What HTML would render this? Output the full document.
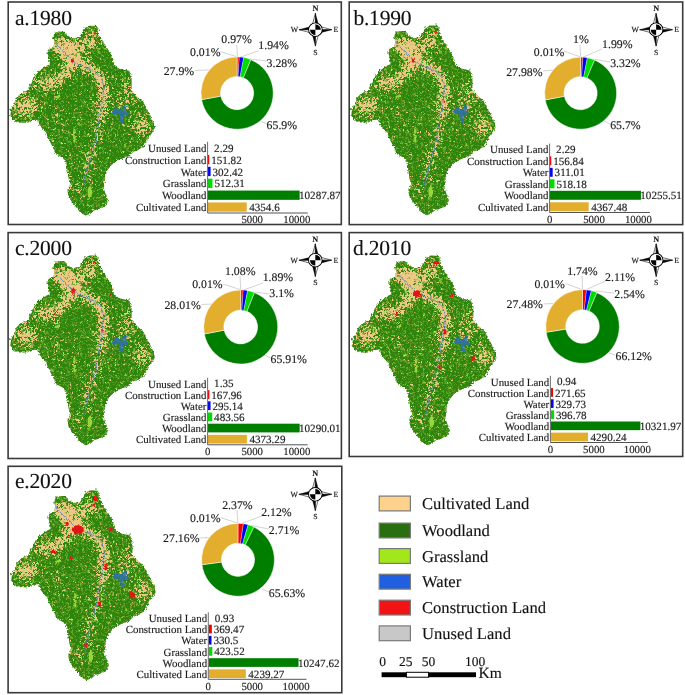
<!DOCTYPE html>
<html><head><meta charset="utf-8"><style>
html,body{margin:0;padding:0;background:#fff;}
svg{display:block;will-change:transform;}
text{font-family:"Liberation Serif",serif;text-rendering:geometricPrecision;stroke:#1c1c1c;stroke-width:0.15px;}
</style></head><body>
<svg width="685" height="695" viewBox="0 0 685 695">

<defs>
<clipPath id="mc"><path d="M52.4,36.4 L54.5,31.8 L58.0,30.4 L62.5,30.9 L67.6,35.2 L72.2,37.5 L78.1,36.4 L81.6,32.9 L83.9,27.0 L88.6,24.7 L95.6,25.1 L97.9,28.2 L97.9,32.9 L100.3,38.7 L103.8,43.4 L108.4,50.4 L112.0,57.4 L114.3,65.6 L119.0,67.9 L124.8,69.1 L129.5,70.2 L130.6,76.1 L130.6,87.8 L133.0,92.4 L136.5,95.9 L142.3,100.6 L145.8,108.8 L148.2,112.0 L151.7,119.3 L154.0,126.4 L151.7,131.0 L148.2,135.7 L145.8,140.4 L143.5,145.0 L138.8,148.5 L131.8,150.9 L127.1,155.6 L117.8,159.1 L110.8,163.7 L106.1,169.6 L103.8,176.6 L103.8,182.4 L102.6,187.1 L105.0,194.1 L107.3,200.0 L103.8,205.8 L97.9,208.1 L93.3,209.3 L89.8,212.8 L84.5,214.5 L79.2,211.6 L75.7,207.0 L72.2,202.3 L67.6,196.4 L66.4,189.4 L69.9,184.8 L67.6,177.8 L66.4,168.4 L65.2,161.4 L61.7,156.7 L54.7,153.2 L52.4,147.4 L47.7,138.0 L44.2,131.0 L38.4,124.0 L37.2,118.2 L31.4,120.5 L25.5,121.7 L17.3,121.7 L12.7,119.3 L9.2,114.7 L10.3,108.8 L12.7,103.0 L16.2,97.1 L20.8,92.4 L26.7,88.9 L30.2,83.1 L33.7,74.9 L39.5,69.1 L44.2,65.6 L48.9,63.2 L47.7,57.4 L46.5,51.5 L47.7,48.0 L52.4,46.9 L53.5,41.0 Z"/></clipPath>
<filter id="tanf" x="0" y="20" width="160" height="200" filterUnits="userSpaceOnUse" color-interpolation-filters="sRGB">
  <feTurbulence type="fractalNoise" baseFrequency="0.45" numOctaves="2" seed="4"/>
  <feColorMatrix type="matrix" values="1 0 0 0 0  1 0 0 0 0  1 0 0 0 0  0 0 0 0 1" result="n"/>
  <feGaussianBlur in="SourceGraphic" stdDeviation="4" result="d"/>
  <feComposite in="n" in2="d" operator="arithmetic" k1="0" k2="1" k3="0.58" k4="0" result="s"/>
  <feColorMatrix in="s" type="matrix" values="0 0 0 0 0.925  0 0 0 0 0.79  0 0 0 0 0.51  9 0 0 0 -6.0"/>
</filter>
<filter id="lgf" x="0" y="20" width="160" height="200" filterUnits="userSpaceOnUse" color-interpolation-filters="sRGB">
  <feTurbulence type="fractalNoise" baseFrequency="0.3" numOctaves="2" seed="11"/>
  <feColorMatrix type="matrix" values="1 0 0 0 0  1 0 0 0 0  1 0 0 0 0  0 0 0 0 1"/>
  <feColorMatrix type="matrix" values="0 0 0 0 0.50  0 0 0 0 0.80  0 0 0 0 0.18  10 0 0 0 -6.9"/>
</filter>
<filter id="olf" x="0" y="20" width="160" height="200" filterUnits="userSpaceOnUse" color-interpolation-filters="sRGB">
  <feTurbulence type="fractalNoise" baseFrequency="0.5" numOctaves="2" seed="23"/>
  <feColorMatrix type="matrix" values="1 0 0 0 0  1 0 0 0 0  1 0 0 0 0  0 0 0 0 1"/>
  <feColorMatrix type="matrix" values="0 0 0 0 0.50  0 0 0 0 0.66  0 0 0 0 0.20  9 0 0 0 -4.9"/>
</filter>
<filter id="rough" x="0" y="15" width="165" height="210" filterUnits="userSpaceOnUse">
  <feTurbulence type="turbulence" baseFrequency="0.35" numOctaves="2" seed="2" result="t"/>
  <feDisplacementMap in="SourceGraphic" in2="t" scale="3.5" xChannelSelector="R" yChannelSelector="G"/>
  <feGaussianBlur stdDeviation="0.3"/>
</filter>
<g id="mapbase">
  <g><g clip-path="url(#mc)">
    <rect x="0" y="20" width="160" height="200" fill="#2e850c"/>
    <g filter="url(#olf)" opacity="0.7"><rect x="0" y="20" width="160" height="200"/></g>
    <g filter="url(#lgf)"><rect x="0" y="20" width="160" height="200"/></g>
    <g filter="url(#tanf)">
<rect x="0" y="20" width="160" height="200" fill="#000"/>
<ellipse cx="70" cy="48" rx="16" ry="10" fill="#fff" opacity="0.55"/>
<ellipse cx="91" cy="38" rx="7" ry="11" fill="#fff" opacity="0.55"/>
<ellipse cx="25" cy="105" rx="13" ry="11" fill="#fff" opacity="0.5"/>
<ellipse cx="45" cy="82" rx="14" ry="9" fill="#fff" opacity="0.45"/>
<ellipse cx="125" cy="95" rx="12" ry="18" fill="#fff" opacity="0.28"/>
<ellipse cx="140" cy="126" rx="10" ry="12" fill="#fff" opacity="0.45"/>
<ellipse cx="75" cy="190" rx="6" ry="5" fill="#fff" opacity="0.5"/>
<ellipse cx="58" cy="120" rx="10" ry="18" fill="#fff" opacity="0.15"/>
<g fill="none" stroke="#fff" stroke-linecap="round" stroke-linejoin="round">
<path d="M53,42 L60,47 L66,54 L72,60 L80,64 L90,68 L98,74 L102,84 L102,100 L101,112" stroke-width="8" opacity="0.85"/>
<path d="M70,60 L63,70 L57,80 L52,86" stroke-width="6" opacity="0.7"/>
<path d="M70,60 L68,70 L67,79" stroke-width="5" opacity="0.6"/>
<path d="M101,112 L98,125 L95,138 L92,150 L88,165 L85,180" stroke-width="6" opacity="0.6"/>
</g>
</g>
    <g fill="#9ad63a"><ellipse cx="73.5" cy="134" rx="1.4" ry="9"/><ellipse cx="89" cy="191" rx="2.4" ry="6"/><ellipse cx="57" cy="96" rx="2.5" ry="1.8"/><ellipse cx="95" cy="34" rx="1.8" ry="1.5"/></g>
    <path d="M54,40 L55.2,42.1 L58,46 L61.1,49.5 L65,53 L70,58.3 L74,61.5 L78.8,64.2 L84,66.5 L90.7,68.7 L95,71.5 L99.5,76 L102.5,83.4 L102.3,90 L101.9,96.7 L100.8,104 L99.5,111.4 L98,119 L96.6,126.2 L95.1,138 L92.1,149.8 L89.8,157 L87.7,164.5 L85.8,172 L84.2,179.3 L83.3,188.1" fill="none" stroke="#5a80c4" stroke-width="0.95" opacity="0.85"/>
    <path d="M112,108 L116,107 L118,108.5 L121,109 L123,107 L125,104.5 L126.5,106 L124.5,110 L126,112 L128.5,113.5 L126,114.8 L122.5,113.5 L121.5,116 L122.5,120 L121,123 L119,121 L118.5,116 L116,113.5 L112,112.8 Z" fill="#2f6db5" opacity="0.85"/>
  </g></g>
</g>
</defs>
<rect x="8.2" y="2.0" width="333.1" height="222.5" fill="none" stroke="#3a3a3a" stroke-width="1.6"/>
<text x="15.0" y="24.8" font-size="21.5" letter-spacing="-0.2" font-family="Liberation Serif" fill="#111">a.1980</text>
<g transform="translate(0,0)" filter="url(#rough)">
<use href="#mapbase"/>
<ellipse cx="71.5" cy="59.8" rx="1.6" ry="2.0" fill="#e01818"/>
<ellipse cx="93.6" cy="32.4" rx="1.2" ry="1.0" fill="#e01818"/>
<ellipse cx="53.8" cy="83.4" rx="0.8" ry="0.8" fill="#e01818"/>
</g>
<g transform="translate(315.4,29.7) rotate(0)"><path d="M0,-16.4 L-2.7,-6.2 L0,0 Z" fill="#fff" stroke="#000" stroke-width="0.55" stroke-linejoin="miter"/><path d="M0,-16.4 L2.7,-6.2 L0,0 Z" fill="#000" stroke="#000" stroke-width="0.4"/></g>
<g transform="translate(315.4,29.7) rotate(90)"><path d="M0,-16.4 L-2.7,-6.2 L0,0 Z" fill="#fff" stroke="#000" stroke-width="0.55" stroke-linejoin="miter"/><path d="M0,-16.4 L2.7,-6.2 L0,0 Z" fill="#000" stroke="#000" stroke-width="0.4"/></g>
<g transform="translate(315.4,29.7) rotate(180)"><path d="M0,-16.4 L-2.7,-6.2 L0,0 Z" fill="#fff" stroke="#000" stroke-width="0.55" stroke-linejoin="miter"/><path d="M0,-16.4 L2.7,-6.2 L0,0 Z" fill="#000" stroke="#000" stroke-width="0.4"/></g>
<g transform="translate(315.4,29.7) rotate(270)"><path d="M0,-16.4 L-2.7,-6.2 L0,0 Z" fill="#fff" stroke="#000" stroke-width="0.55" stroke-linejoin="miter"/><path d="M0,-16.4 L2.7,-6.2 L0,0 Z" fill="#000" stroke="#000" stroke-width="0.4"/></g>
<circle cx="315.4" cy="29.7" r="6.7" fill="#fff" stroke="#000" stroke-width="1.1"/>
<path d="M315.4,29.7 L315.4,24.0 A5.7,5.7 0 0 1 321.09999999999997,29.7 Z" fill="#000"/>
<path d="M315.4,29.7 L315.4,35.4 A5.7,5.7 0 0 1 309.7,29.7 Z" fill="#000"/>
<circle cx="315.4" cy="29.7" r="5.8" fill="none" stroke="#fff" stroke-width="0.8"/>
<text x="315.4" y="11.099999999999998" font-size="8.2" font-weight="bold" text-anchor="middle" font-family="Liberation Serif" fill="#111">N</text>
<text x="315.4" y="54.5" font-size="7.8" text-anchor="middle" font-family="Liberation Serif" fill="#111">S</text>
<text x="294.4" y="32.4" font-size="7.8" text-anchor="middle" font-family="Liberation Serif" fill="#111">W</text>
<text x="335.9" y="32.4" font-size="7.8" text-anchor="middle" font-family="Liberation Serif" fill="#111">E</text>
<line x1="220.5" y1="51.7" x2="236.5" y2="56.7" stroke="#c8c8c8" stroke-width="0.8"/>
<line x1="236.8" y1="44.7" x2="237.4" y2="57.2" stroke="#c8c8c8" stroke-width="0.8"/>
<line x1="239.8" y1="57.4" x2="258.4" y2="50.8" stroke="#c8c8c8" stroke-width="0.8"/>
<line x1="249.6" y1="59" x2="267.1" y2="61.1" stroke="#c8c8c8" stroke-width="0.8"/>
<line x1="260.6" y1="121.3" x2="267.1" y2="124" stroke="#c8c8c8" stroke-width="0.8"/>
<line x1="194.9" y1="70.5" x2="209.1" y2="69.9" stroke="#c8c8c8" stroke-width="0.8"/>
<path d="M237.10,57.00 A36.1,36.1 0 0 1 237.13,57.00 L237.12,76.50 A16.6,16.6 0 0 0 237.10,76.50 Z" fill="#bfbfbf" stroke="#fff" stroke-width="0.0" stroke-linejoin="round"/>
<path d="M237.13,57.00 A36.1,36.1 0 0 1 239.34,57.07 L238.13,76.53 A16.6,16.6 0 0 0 237.12,76.50 Z" fill="#f80000" stroke="#fff" stroke-width="0.3" stroke-linejoin="round"/>
<path d="M239.34,57.07 A36.1,36.1 0 0 1 243.70,57.61 L240.13,76.78 A16.6,16.6 0 0 0 238.13,76.53 Z" fill="#0000f4" stroke="#fff" stroke-width="0.3" stroke-linejoin="round"/>
<path d="M243.70,57.61 A36.1,36.1 0 0 1 250.82,59.71 L243.41,77.75 A16.6,16.6 0 0 0 240.13,76.78 Z" fill="#00dc00" stroke="#fff" stroke-width="0.3" stroke-linejoin="round"/>
<path d="M250.82,59.71 A36.1,36.1 0 1 1 201.60,99.63 L220.77,96.10 A16.6,16.6 0 1 0 243.41,77.75 Z" fill="#007e00" stroke="#fff" stroke-width="0.5" stroke-linejoin="round"/>
<path d="M201.60,99.63 A36.1,36.1 0 0 1 237.10,57.00 L237.10,76.50 A16.6,16.6 0 0 0 220.77,96.10 Z" fill="#e3ae2e" stroke="#fff" stroke-width="0.5" stroke-linejoin="round"/>
<text x="190.0" y="56.2" font-size="11.8" font-family="Liberation Serif" fill="#1c1c1c">0.01%</text>
<text x="221.3" y="43.0" font-size="11.8" font-family="Liberation Serif" fill="#1c1c1c">0.97%</text>
<text x="258.3" y="49.2" font-size="11.8" font-family="Liberation Serif" fill="#1c1c1c">1.94%</text>
<text x="266.6" y="66.5" font-size="11.8" font-family="Liberation Serif" fill="#1c1c1c">3.28%</text>
<text x="266.6" y="129.1" font-size="11.8" font-family="Liberation Serif" fill="#1c1c1c">65.9%</text>
<text x="163.7" y="74.8" font-size="11.8" font-family="Liberation Serif" fill="#1c1c1c">27.9%</text>
<text x="206.4" y="151.8" font-size="10.9" text-anchor="end" font-family="Liberation Serif" fill="#1c1c1c">Unused Land</text>
<text x="214.1" y="151.7" font-size="11.1" font-family="Liberation Serif" fill="#1c1c1c">2.29</text>
<rect x="207.90" y="154.97" width="1.35" height="9.26" fill="#f80000"/>
<text x="206.4" y="163.7" font-size="10.9" text-anchor="end" font-family="Liberation Serif" fill="#1c1c1c">Construction Land</text>
<text x="211.2" y="163.6" font-size="11.1" font-family="Liberation Serif" fill="#1c1c1c">151.82</text>
<rect x="207.90" y="166.84" width="2.70" height="9.26" fill="#0000f4"/>
<text x="206.4" y="175.6" font-size="10.9" text-anchor="end" font-family="Liberation Serif" fill="#1c1c1c">Water</text>
<text x="212.5" y="175.5" font-size="11.1" font-family="Liberation Serif" fill="#1c1c1c">302.42</text>
<rect x="207.90" y="178.71" width="4.57" height="9.26" fill="#00dc00"/>
<text x="206.4" y="187.4" font-size="10.9" text-anchor="end" font-family="Liberation Serif" fill="#1c1c1c">Grassland</text>
<text x="214.4" y="187.3" font-size="11.1" font-family="Liberation Serif" fill="#1c1c1c">512.31</text>
<rect x="207.90" y="190.57" width="91.77" height="9.26" fill="#007e00"/>
<text x="206.4" y="199.3" font-size="10.9" text-anchor="end" font-family="Liberation Serif" fill="#1c1c1c">Woodland</text>
<text x="299.0" y="199.2" font-size="11.1" font-family="Liberation Serif" fill="#1c1c1c">10287.87</text>
<rect x="207.90" y="202.44" width="38.84" height="9.26" fill="#e3ae2e"/>
<text x="206.4" y="211.2" font-size="10.9" text-anchor="end" font-family="Liberation Serif" fill="#1c1c1c">Cultivated Land</text>
<text x="249.2" y="211.1" font-size="11.1" font-family="Liberation Serif" fill="#1c1c1c">4354.6</text>
<line x1="207.6" y1="141.8" x2="207.6" y2="213.0" stroke="#6e6e6e" stroke-width="1"/>
<line x1="207.6" y1="213.0" x2="307.8" y2="213.0" stroke="#555" stroke-width="1"/>
<text x="252.2" y="222.6" font-size="10.8" text-anchor="middle" font-family="Liberation Serif" fill="#1c1c1c">5000</text>
<text x="296.8" y="222.6" font-size="10.8" text-anchor="middle" font-family="Liberation Serif" fill="#1c1c1c">10000</text>
<rect x="349.2" y="2.0" width="333.5" height="222.6" fill="none" stroke="#3a3a3a" stroke-width="1.6"/>
<text x="353.4" y="24.8" font-size="21.5" letter-spacing="-0.2" font-family="Liberation Serif" fill="#111">b.1990</text>
<g transform="translate(340.8,-0.3)" filter="url(#rough)">
<use href="#mapbase"/>
<ellipse cx="71.5" cy="59.8" rx="1.8" ry="2.2" fill="#e01818"/>
<ellipse cx="93.6" cy="32.4" rx="1.4" ry="1.0" fill="#e01818"/>
<ellipse cx="53.8" cy="83.4" rx="0.9" ry="0.9" fill="#e01818"/>
<ellipse cx="102.5" cy="101" rx="0.7" ry="1.2" fill="#e01818"/>
</g>
<g transform="translate(656.1,29.7) rotate(0)"><path d="M0,-16.4 L-2.7,-6.2 L0,0 Z" fill="#fff" stroke="#000" stroke-width="0.55" stroke-linejoin="miter"/><path d="M0,-16.4 L2.7,-6.2 L0,0 Z" fill="#000" stroke="#000" stroke-width="0.4"/></g>
<g transform="translate(656.1,29.7) rotate(90)"><path d="M0,-16.4 L-2.7,-6.2 L0,0 Z" fill="#fff" stroke="#000" stroke-width="0.55" stroke-linejoin="miter"/><path d="M0,-16.4 L2.7,-6.2 L0,0 Z" fill="#000" stroke="#000" stroke-width="0.4"/></g>
<g transform="translate(656.1,29.7) rotate(180)"><path d="M0,-16.4 L-2.7,-6.2 L0,0 Z" fill="#fff" stroke="#000" stroke-width="0.55" stroke-linejoin="miter"/><path d="M0,-16.4 L2.7,-6.2 L0,0 Z" fill="#000" stroke="#000" stroke-width="0.4"/></g>
<g transform="translate(656.1,29.7) rotate(270)"><path d="M0,-16.4 L-2.7,-6.2 L0,0 Z" fill="#fff" stroke="#000" stroke-width="0.55" stroke-linejoin="miter"/><path d="M0,-16.4 L2.7,-6.2 L0,0 Z" fill="#000" stroke="#000" stroke-width="0.4"/></g>
<circle cx="656.1" cy="29.7" r="6.7" fill="#fff" stroke="#000" stroke-width="1.1"/>
<path d="M656.1,29.7 L656.1,24.0 A5.7,5.7 0 0 1 661.8000000000001,29.7 Z" fill="#000"/>
<path d="M656.1,29.7 L656.1,35.4 A5.7,5.7 0 0 1 650.4,29.7 Z" fill="#000"/>
<circle cx="656.1" cy="29.7" r="5.8" fill="none" stroke="#fff" stroke-width="0.8"/>
<text x="656.1" y="11.099999999999998" font-size="8.2" font-weight="bold" text-anchor="middle" font-family="Liberation Serif" fill="#111">N</text>
<text x="656.1" y="54.5" font-size="7.8" text-anchor="middle" font-family="Liberation Serif" fill="#111">S</text>
<text x="635.1" y="32.4" font-size="7.8" text-anchor="middle" font-family="Liberation Serif" fill="#111">W</text>
<text x="676.6" y="32.4" font-size="7.8" text-anchor="middle" font-family="Liberation Serif" fill="#111">E</text>
<line x1="564" y1="51" x2="580" y2="56.8" stroke="#c8c8c8" stroke-width="0.8"/>
<line x1="580" y1="45" x2="580.6" y2="57" stroke="#c8c8c8" stroke-width="0.8"/>
<line x1="583" y1="57.2" x2="602" y2="49" stroke="#c8c8c8" stroke-width="0.8"/>
<line x1="593" y1="59" x2="610" y2="62" stroke="#c8c8c8" stroke-width="0.8"/>
<line x1="604" y1="121" x2="610" y2="124" stroke="#c8c8c8" stroke-width="0.8"/>
<line x1="543" y1="71" x2="553" y2="70" stroke="#c8c8c8" stroke-width="0.8"/>
<path d="M580.60,57.20 A36.0,36.0 0 0 1 580.63,57.20 L580.62,76.60 A16.6,16.6 0 0 0 580.60,76.60 Z" fill="#bfbfbf" stroke="#fff" stroke-width="0.0" stroke-linejoin="round"/>
<path d="M580.63,57.20 A36.0,36.0 0 0 1 582.90,57.27 L581.66,76.63 A16.6,16.6 0 0 0 580.62,76.60 Z" fill="#f80000" stroke="#fff" stroke-width="0.3" stroke-linejoin="round"/>
<path d="M582.90,57.27 A36.0,36.0 0 0 1 587.37,57.84 L583.72,76.90 A16.6,16.6 0 0 0 581.66,76.63 Z" fill="#0000f4" stroke="#fff" stroke-width="0.3" stroke-linejoin="round"/>
<path d="M587.37,57.84 A36.0,36.0 0 0 1 594.55,60.01 L587.03,77.90 A16.6,16.6 0 0 0 583.72,76.90 Z" fill="#00dc00" stroke="#fff" stroke-width="0.3" stroke-linejoin="round"/>
<path d="M594.55,60.01 A36.0,36.0 0 1 1 545.23,99.89 L564.29,96.29 A16.6,16.6 0 1 0 587.03,77.90 Z" fill="#007e00" stroke="#fff" stroke-width="0.5" stroke-linejoin="round"/>
<path d="M545.23,99.89 A36.0,36.0 0 0 1 580.60,57.20 L580.60,76.60 A16.6,16.6 0 0 0 564.29,96.29 Z" fill="#e3ae2e" stroke="#fff" stroke-width="0.5" stroke-linejoin="round"/>
<text x="533.8" y="55.7" font-size="11.8" font-family="Liberation Serif" fill="#1c1c1c">0.01%</text>
<text x="573.0" y="43.0" font-size="11.8" font-family="Liberation Serif" fill="#1c1c1c">1%</text>
<text x="602.1" y="48.4" font-size="11.8" font-family="Liberation Serif" fill="#1c1c1c">1.99%</text>
<text x="610.2" y="66.8" font-size="11.8" font-family="Liberation Serif" fill="#1c1c1c">3.32%</text>
<text x="610.2" y="129.4" font-size="11.8" font-family="Liberation Serif" fill="#1c1c1c">65.7%</text>
<text x="506.2" y="75.6" font-size="11.8" font-family="Liberation Serif" fill="#1c1c1c">27.98%</text>
<text x="548.4" y="153.4" font-size="10.9" text-anchor="end" font-family="Liberation Serif" fill="#1c1c1c">Unused Land</text>
<text x="556.1" y="153.3" font-size="11.1" font-family="Liberation Serif" fill="#1c1c1c">2.29</text>
<rect x="549.90" y="156.35" width="1.39" height="8.96" fill="#f80000"/>
<text x="548.4" y="164.9" font-size="10.9" text-anchor="end" font-family="Liberation Serif" fill="#1c1c1c">Construction Land</text>
<text x="553.2" y="164.8" font-size="11.1" font-family="Liberation Serif" fill="#1c1c1c">156.84</text>
<rect x="549.90" y="167.83" width="2.76" height="8.96" fill="#0000f4"/>
<text x="548.4" y="176.4" font-size="10.9" text-anchor="end" font-family="Liberation Serif" fill="#1c1c1c">Water</text>
<text x="554.6" y="176.3" font-size="11.1" font-family="Liberation Serif" fill="#1c1c1c">311.01</text>
<rect x="549.90" y="179.31" width="4.60" height="8.96" fill="#00dc00"/>
<text x="548.4" y="187.9" font-size="10.9" text-anchor="end" font-family="Liberation Serif" fill="#1c1c1c">Grassland</text>
<text x="556.4" y="187.8" font-size="11.1" font-family="Liberation Serif" fill="#1c1c1c">518.18</text>
<rect x="549.90" y="190.80" width="91.07" height="8.96" fill="#007e00"/>
<text x="548.4" y="199.4" font-size="10.9" text-anchor="end" font-family="Liberation Serif" fill="#1c1c1c">Woodland</text>
<text x="640.3" y="199.3" font-size="11.1" font-family="Liberation Serif" fill="#1c1c1c">10255.51</text>
<rect x="549.90" y="202.28" width="38.78" height="8.96" fill="#e3ae2e"/>
<text x="548.4" y="210.9" font-size="10.9" text-anchor="end" font-family="Liberation Serif" fill="#1c1c1c">Cultivated Land</text>
<text x="591.2" y="210.8" font-size="11.1" font-family="Liberation Serif" fill="#1c1c1c">4367.48</text>
<line x1="549.6" y1="143.6" x2="549.6" y2="212.5" stroke="#6e6e6e" stroke-width="1"/>
<line x1="549.6" y1="212.5" x2="649.9" y2="212.5" stroke="#555" stroke-width="1"/>
<text x="549.6" y="223.0" font-size="10.8" text-anchor="middle" font-family="Liberation Serif" fill="#1c1c1c">0</text>
<text x="594.0" y="223.0" font-size="10.8" text-anchor="middle" font-family="Liberation Serif" fill="#1c1c1c">5000</text>
<text x="638.4" y="223.0" font-size="10.8" text-anchor="middle" font-family="Liberation Serif" fill="#1c1c1c">10000</text>
<rect x="8.1" y="232.6" width="333.3" height="225.9" fill="none" stroke="#3a3a3a" stroke-width="1.6"/>
<text x="15.0" y="254.5" font-size="21.5" letter-spacing="-0.2" font-family="Liberation Serif" fill="#111">c.2000</text>
<g transform="translate(0,229.7)" filter="url(#rough)">
<use href="#mapbase"/>
<ellipse cx="72.5" cy="60.5" rx="2.4" ry="2.6" fill="#e01818"/>
<ellipse cx="93.6" cy="32.4" rx="1.8" ry="1.2" fill="#e01818"/>
<ellipse cx="53.8" cy="83.4" rx="1.0" ry="1.0" fill="#e01818"/>
<ellipse cx="102.5" cy="101" rx="0.8" ry="1.6" fill="#e01818"/>
<ellipse cx="130.5" cy="127.7" rx="0.8" ry="1.2" fill="#e01818"/>
<ellipse cx="109.8" cy="64.2" rx="1.0" ry="0.8" fill="#e01818"/>
</g>
<g transform="translate(315.3,260.2) rotate(0)"><path d="M0,-16.4 L-2.7,-6.2 L0,0 Z" fill="#fff" stroke="#000" stroke-width="0.55" stroke-linejoin="miter"/><path d="M0,-16.4 L2.7,-6.2 L0,0 Z" fill="#000" stroke="#000" stroke-width="0.4"/></g>
<g transform="translate(315.3,260.2) rotate(90)"><path d="M0,-16.4 L-2.7,-6.2 L0,0 Z" fill="#fff" stroke="#000" stroke-width="0.55" stroke-linejoin="miter"/><path d="M0,-16.4 L2.7,-6.2 L0,0 Z" fill="#000" stroke="#000" stroke-width="0.4"/></g>
<g transform="translate(315.3,260.2) rotate(180)"><path d="M0,-16.4 L-2.7,-6.2 L0,0 Z" fill="#fff" stroke="#000" stroke-width="0.55" stroke-linejoin="miter"/><path d="M0,-16.4 L2.7,-6.2 L0,0 Z" fill="#000" stroke="#000" stroke-width="0.4"/></g>
<g transform="translate(315.3,260.2) rotate(270)"><path d="M0,-16.4 L-2.7,-6.2 L0,0 Z" fill="#fff" stroke="#000" stroke-width="0.55" stroke-linejoin="miter"/><path d="M0,-16.4 L2.7,-6.2 L0,0 Z" fill="#000" stroke="#000" stroke-width="0.4"/></g>
<circle cx="315.3" cy="260.2" r="6.7" fill="#fff" stroke="#000" stroke-width="1.1"/>
<path d="M315.3,260.2 L315.3,254.5 A5.7,5.7 0 0 1 321.0,260.2 Z" fill="#000"/>
<path d="M315.3,260.2 L315.3,265.9 A5.7,5.7 0 0 1 309.6,260.2 Z" fill="#000"/>
<circle cx="315.3" cy="260.2" r="5.8" fill="none" stroke="#fff" stroke-width="0.8"/>
<text x="315.3" y="241.6" font-size="8.2" font-weight="bold" text-anchor="middle" font-family="Liberation Serif" fill="#111">N</text>
<text x="315.3" y="285.0" font-size="7.8" text-anchor="middle" font-family="Liberation Serif" fill="#111">S</text>
<text x="294.3" y="262.9" font-size="7.8" text-anchor="middle" font-family="Liberation Serif" fill="#111">W</text>
<text x="335.8" y="262.9" font-size="7.8" text-anchor="middle" font-family="Liberation Serif" fill="#111">E</text>
<line x1="223" y1="284" x2="240" y2="289.5" stroke="#c8c8c8" stroke-width="0.8"/>
<line x1="240" y1="276" x2="240.7" y2="290" stroke="#c8c8c8" stroke-width="0.8"/>
<line x1="243.5" y1="290" x2="263" y2="283" stroke="#c8c8c8" stroke-width="0.8"/>
<line x1="253" y1="292" x2="270" y2="294" stroke="#c8c8c8" stroke-width="0.8"/>
<line x1="264" y1="355" x2="271" y2="358" stroke="#c8c8c8" stroke-width="0.8"/>
<line x1="201.5" y1="304.5" x2="212" y2="304" stroke="#c8c8c8" stroke-width="0.8"/>
<path d="M240.70,290.00 A37.0,37.0 0 0 1 240.72,290.00 L240.71,310.10 A16.9,16.9 0 0 0 240.70,310.10 Z" fill="#bfbfbf" stroke="#fff" stroke-width="0.0" stroke-linejoin="round"/>
<path d="M240.72,290.00 A37.0,37.0 0 0 1 243.22,290.09 L241.85,310.14 A16.9,16.9 0 0 0 240.71,310.10 Z" fill="#f80000" stroke="#fff" stroke-width="0.3" stroke-linejoin="round"/>
<path d="M243.22,290.09 A37.0,37.0 0 0 1 247.58,290.64 L243.84,310.39 A16.9,16.9 0 0 0 241.85,310.14 Z" fill="#0000f4" stroke="#fff" stroke-width="0.3" stroke-linejoin="round"/>
<path d="M247.58,290.64 A37.0,37.0 0 0 1 254.48,292.66 L246.99,311.32 A16.9,16.9 0 0 0 243.84,310.39 Z" fill="#00dc00" stroke="#fff" stroke-width="0.3" stroke-linejoin="round"/>
<path d="M254.48,292.66 A37.0,37.0 0 1 1 204.36,333.96 L224.10,330.18 A16.9,16.9 0 1 0 246.99,311.32 Z" fill="#007e00" stroke="#fff" stroke-width="0.5" stroke-linejoin="round"/>
<path d="M204.36,333.96 A37.0,37.0 0 0 1 240.70,290.00 L240.70,310.10 A16.9,16.9 0 0 0 224.10,330.18 Z" fill="#e3ae2e" stroke="#fff" stroke-width="0.5" stroke-linejoin="round"/>
<text x="192.2" y="288.3" font-size="11.8" font-family="Liberation Serif" fill="#1c1c1c">0.01%</text>
<text x="225.0" y="274.8" font-size="11.8" font-family="Liberation Serif" fill="#1c1c1c">1.08%</text>
<text x="262.7" y="281.3" font-size="11.8" font-family="Liberation Serif" fill="#1c1c1c">1.89%</text>
<text x="269.3" y="297.1" font-size="11.8" font-family="Liberation Serif" fill="#1c1c1c">3.1%</text>
<text x="270.5" y="362.8" font-size="11.8" font-family="Liberation Serif" fill="#1c1c1c">65.91%</text>
<text x="164.4" y="308.7" font-size="11.8" font-family="Liberation Serif" fill="#1c1c1c">28.01%</text>
<text x="206.4" y="387.5" font-size="10.9" text-anchor="end" font-family="Liberation Serif" fill="#1c1c1c">Unused Land</text>
<text x="214.1" y="387.4" font-size="11.1" font-family="Liberation Serif" fill="#1c1c1c">1.35</text>
<rect x="207.90" y="390.19" width="1.50" height="8.71" fill="#f80000"/>
<text x="206.4" y="398.7" font-size="10.9" text-anchor="end" font-family="Liberation Serif" fill="#1c1c1c">Construction Land</text>
<text x="211.3" y="398.6" font-size="11.1" font-family="Liberation Serif" fill="#1c1c1c">167.96</text>
<rect x="207.90" y="401.36" width="2.63" height="8.71" fill="#0000f4"/>
<text x="206.4" y="409.8" font-size="10.9" text-anchor="end" font-family="Liberation Serif" fill="#1c1c1c">Water</text>
<text x="212.4" y="409.7" font-size="11.1" font-family="Liberation Serif" fill="#1c1c1c">295.14</text>
<rect x="207.90" y="412.53" width="4.31" height="8.71" fill="#00dc00"/>
<text x="206.4" y="421.0" font-size="10.9" text-anchor="end" font-family="Liberation Serif" fill="#1c1c1c">Grassland</text>
<text x="214.1" y="420.9" font-size="11.1" font-family="Liberation Serif" fill="#1c1c1c">483.56</text>
<rect x="207.90" y="423.69" width="91.79" height="8.71" fill="#007e00"/>
<text x="206.4" y="432.2" font-size="10.9" text-anchor="end" font-family="Liberation Serif" fill="#1c1c1c">Woodland</text>
<text x="299.0" y="432.1" font-size="11.1" font-family="Liberation Serif" fill="#1c1c1c">10290.01</text>
<rect x="207.90" y="434.86" width="39.01" height="8.71" fill="#e3ae2e"/>
<text x="206.4" y="443.3" font-size="10.9" text-anchor="end" font-family="Liberation Serif" fill="#1c1c1c">Cultivated Land</text>
<text x="249.4" y="443.2" font-size="11.1" font-family="Liberation Serif" fill="#1c1c1c">4373.29</text>
<line x1="207.6" y1="377.8" x2="207.6" y2="444.8" stroke="#6e6e6e" stroke-width="1"/>
<line x1="207.6" y1="444.8" x2="307.6" y2="444.8" stroke="#555" stroke-width="1"/>
<text x="207.6" y="454.9" font-size="10.8" text-anchor="middle" font-family="Liberation Serif" fill="#1c1c1c">0</text>
<text x="252.2" y="454.9" font-size="10.8" text-anchor="middle" font-family="Liberation Serif" fill="#1c1c1c">5000</text>
<text x="296.8" y="454.9" font-size="10.8" text-anchor="middle" font-family="Liberation Serif" fill="#1c1c1c">10000</text>
<rect x="349.2" y="232.6" width="333.5" height="223.9" fill="none" stroke="#3a3a3a" stroke-width="1.6"/>
<text x="353.0" y="254.6" font-size="21.5" letter-spacing="-0.2" font-family="Liberation Serif" fill="#111">d.2010</text>
<g transform="translate(341.7,229.8)" filter="url(#rough)">
<use href="#mapbase"/>
<ellipse cx="74.4" cy="62.8" rx="4.2" ry="3.4" fill="#e01818"/>
<ellipse cx="93.6" cy="32.4" rx="2.8" ry="1.8" fill="#e01818"/>
<ellipse cx="109.8" cy="64.2" rx="1.8" ry="1.4" fill="#e01818"/>
<ellipse cx="102.5" cy="101.1" rx="1.4" ry="2.8" fill="#e01818"/>
<ellipse cx="130.5" cy="127.7" rx="1.8" ry="2.8" fill="#e01818"/>
<ellipse cx="96.6" cy="136.5" rx="1.3" ry="2.4" fill="#e01818"/>
<ellipse cx="53.8" cy="83.4" rx="1.4" ry="1.4" fill="#e01818"/>
<ellipse cx="68.5" cy="90.8" rx="1.0" ry="1.0" fill="#e01818"/>
<ellipse cx="84.8" cy="177.8" rx="0.9" ry="1.8" fill="#e01818"/>
<ellipse cx="56.7" cy="42.1" rx="0.9" ry="0.9" fill="#e01818"/>
</g>
<g transform="translate(656.2,260.2) rotate(0)"><path d="M0,-16.4 L-2.7,-6.2 L0,0 Z" fill="#fff" stroke="#000" stroke-width="0.55" stroke-linejoin="miter"/><path d="M0,-16.4 L2.7,-6.2 L0,0 Z" fill="#000" stroke="#000" stroke-width="0.4"/></g>
<g transform="translate(656.2,260.2) rotate(90)"><path d="M0,-16.4 L-2.7,-6.2 L0,0 Z" fill="#fff" stroke="#000" stroke-width="0.55" stroke-linejoin="miter"/><path d="M0,-16.4 L2.7,-6.2 L0,0 Z" fill="#000" stroke="#000" stroke-width="0.4"/></g>
<g transform="translate(656.2,260.2) rotate(180)"><path d="M0,-16.4 L-2.7,-6.2 L0,0 Z" fill="#fff" stroke="#000" stroke-width="0.55" stroke-linejoin="miter"/><path d="M0,-16.4 L2.7,-6.2 L0,0 Z" fill="#000" stroke="#000" stroke-width="0.4"/></g>
<g transform="translate(656.2,260.2) rotate(270)"><path d="M0,-16.4 L-2.7,-6.2 L0,0 Z" fill="#fff" stroke="#000" stroke-width="0.55" stroke-linejoin="miter"/><path d="M0,-16.4 L2.7,-6.2 L0,0 Z" fill="#000" stroke="#000" stroke-width="0.4"/></g>
<circle cx="656.2" cy="260.2" r="6.7" fill="#fff" stroke="#000" stroke-width="1.1"/>
<path d="M656.2,260.2 L656.2,254.5 A5.7,5.7 0 0 1 661.9000000000001,260.2 Z" fill="#000"/>
<path d="M656.2,260.2 L656.2,265.9 A5.7,5.7 0 0 1 650.5,260.2 Z" fill="#000"/>
<circle cx="656.2" cy="260.2" r="5.8" fill="none" stroke="#fff" stroke-width="0.8"/>
<text x="656.2" y="241.6" font-size="8.2" font-weight="bold" text-anchor="middle" font-family="Liberation Serif" fill="#111">N</text>
<text x="656.2" y="285.0" font-size="7.8" text-anchor="middle" font-family="Liberation Serif" fill="#111">S</text>
<text x="635.2" y="262.9" font-size="7.8" text-anchor="middle" font-family="Liberation Serif" fill="#111">W</text>
<text x="676.7" y="262.9" font-size="7.8" text-anchor="middle" font-family="Liberation Serif" fill="#111">E</text>
<line x1="565.5" y1="283.5" x2="582" y2="289.5" stroke="#c8c8c8" stroke-width="0.8"/>
<line x1="582" y1="276" x2="582.5" y2="289.5" stroke="#c8c8c8" stroke-width="0.8"/>
<line x1="586" y1="289.7" x2="605.6" y2="281" stroke="#c8c8c8" stroke-width="0.8"/>
<line x1="595" y1="291" x2="614" y2="293" stroke="#c8c8c8" stroke-width="0.8"/>
<line x1="606" y1="352" x2="615" y2="355" stroke="#c8c8c8" stroke-width="0.8"/>
<line x1="543.5" y1="304" x2="553" y2="303.5" stroke="#c8c8c8" stroke-width="0.8"/>
<path d="M582.50,289.70 A36.8,36.8 0 0 1 582.51,289.70 L582.51,309.70 A16.8,16.8 0 0 0 582.50,309.70 Z" fill="#bfbfbf" stroke="#fff" stroke-width="0.0" stroke-linejoin="round"/>
<path d="M582.51,289.70 A36.8,36.8 0 0 1 586.53,289.92 L584.34,309.80 A16.8,16.8 0 0 0 582.51,309.70 Z" fill="#f80000" stroke="#fff" stroke-width="0.3" stroke-linejoin="round"/>
<path d="M586.53,289.92 A36.8,36.8 0 0 1 591.33,290.78 L586.53,310.19 A16.8,16.8 0 0 0 584.34,309.80 Z" fill="#0000f4" stroke="#fff" stroke-width="0.3" stroke-linejoin="round"/>
<path d="M591.33,290.78 A36.8,36.8 0 0 1 596.90,292.64 L589.07,311.04 A16.8,16.8 0 0 0 586.53,310.19 Z" fill="#00dc00" stroke="#fff" stroke-width="0.3" stroke-linejoin="round"/>
<path d="M596.90,292.64 A36.8,36.8 0 1 1 546.15,332.21 L565.90,329.11 A16.8,16.8 0 1 0 589.07,311.04 Z" fill="#007e00" stroke="#fff" stroke-width="0.5" stroke-linejoin="round"/>
<path d="M546.15,332.21 A36.8,36.8 0 0 1 582.50,289.70 L582.50,309.70 A16.8,16.8 0 0 0 565.90,329.11 Z" fill="#e3ae2e" stroke="#fff" stroke-width="0.5" stroke-linejoin="round"/>
<text x="534.4" y="287.9" font-size="11.8" font-family="Liberation Serif" fill="#1c1c1c">0.01%</text>
<text x="567.2" y="275.2" font-size="11.8" font-family="Liberation Serif" fill="#1c1c1c">1.74%</text>
<text x="605.1" y="281.3" font-size="11.8" font-family="Liberation Serif" fill="#1c1c1c">2.11%</text>
<text x="614.3" y="297.8" font-size="11.8" font-family="Liberation Serif" fill="#1c1c1c">2.54%</text>
<text x="615.5" y="359.5" font-size="11.8" font-family="Liberation Serif" fill="#1c1c1c">66.12%</text>
<text x="506.5" y="308.3" font-size="11.8" font-family="Liberation Serif" fill="#1c1c1c">27.48%</text>
<text x="549.2" y="385.5" font-size="10.9" text-anchor="end" font-family="Liberation Serif" fill="#1c1c1c">Unused Land</text>
<text x="556.9" y="385.4" font-size="11.1" font-family="Liberation Serif" fill="#1c1c1c">0.94</text>
<rect x="550.70" y="388.14" width="2.36" height="8.67" fill="#f80000"/>
<text x="549.2" y="396.6" font-size="10.9" text-anchor="end" font-family="Liberation Serif" fill="#1c1c1c">Construction Land</text>
<text x="555.0" y="396.5" font-size="11.1" font-family="Liberation Serif" fill="#1c1c1c">271.65</text>
<rect x="550.70" y="399.26" width="2.87" height="8.67" fill="#0000f4"/>
<text x="549.2" y="407.7" font-size="10.9" text-anchor="end" font-family="Liberation Serif" fill="#1c1c1c">Water</text>
<text x="555.5" y="407.6" font-size="11.1" font-family="Liberation Serif" fill="#1c1c1c">329.73</text>
<rect x="550.70" y="410.37" width="3.45" height="8.67" fill="#00dc00"/>
<text x="549.2" y="418.8" font-size="10.9" text-anchor="end" font-family="Liberation Serif" fill="#1c1c1c">Grassland</text>
<text x="556.0" y="418.7" font-size="11.1" font-family="Liberation Serif" fill="#1c1c1c">396.78</text>
<rect x="550.70" y="421.49" width="89.70" height="8.67" fill="#007e00"/>
<text x="549.2" y="429.9" font-size="10.9" text-anchor="end" font-family="Liberation Serif" fill="#1c1c1c">Woodland</text>
<text x="639.7" y="429.8" font-size="11.1" font-family="Liberation Serif" fill="#1c1c1c">10321.97</text>
<rect x="550.70" y="432.61" width="37.28" height="8.67" fill="#e3ae2e"/>
<text x="549.2" y="441.0" font-size="10.9" text-anchor="end" font-family="Liberation Serif" fill="#1c1c1c">Cultivated Land</text>
<text x="590.5" y="440.9" font-size="11.1" font-family="Liberation Serif" fill="#1c1c1c">4290.24</text>
<line x1="550.4" y1="375.8" x2="550.4" y2="442.5" stroke="#6e6e6e" stroke-width="1"/>
<line x1="550.4" y1="442.5" x2="647.7" y2="442.5" stroke="#555" stroke-width="1"/>
<text x="550.4" y="452.8" font-size="10.8" text-anchor="middle" font-family="Liberation Serif" fill="#1c1c1c">0</text>
<text x="593.9" y="452.8" font-size="10.8" text-anchor="middle" font-family="Liberation Serif" fill="#1c1c1c">5000</text>
<text x="637.3" y="452.8" font-size="10.8" text-anchor="middle" font-family="Liberation Serif" fill="#1c1c1c">10000</text>
<rect x="8.1" y="466.3" width="333.7" height="226.4" fill="none" stroke="#3a3a3a" stroke-width="1.6"/>
<text x="15.0" y="488.4" font-size="21.5" letter-spacing="-0.2" font-family="Liberation Serif" fill="#111">e.2020</text>
<g transform="translate(0.8,464.6)" filter="url(#rough)">
<use href="#mapbase"/>
<ellipse cx="75.9" cy="64.2" rx="6.0" ry="4.6" fill="#e01818"/>
<ellipse cx="65.6" cy="58.3" rx="1.5" ry="2.0" fill="#e01818"/>
<ellipse cx="93.6" cy="33.3" rx="2.8" ry="2.4" fill="#e01818"/>
<ellipse cx="92.1" cy="39.2" rx="1.6" ry="1.2" fill="#e01818"/>
<ellipse cx="109.8" cy="64.2" rx="2.4" ry="2.0" fill="#e01818"/>
<ellipse cx="52.3" cy="86.4" rx="3.6" ry="1.8" fill="#e01818"/>
<ellipse cx="70" cy="93.7" rx="1.4" ry="2.0" fill="#e01818"/>
<ellipse cx="104" cy="101.1" rx="1.8" ry="3.8" fill="#e01818"/>
<ellipse cx="130.5" cy="129.7" rx="2.8" ry="3.2" fill="#e01818"/>
<ellipse cx="98" cy="138" rx="1.8" ry="2.8" fill="#e01818"/>
<ellipse cx="84.8" cy="179.3" rx="1.4" ry="2.4" fill="#e01818"/>
<ellipse cx="27.2" cy="108.5" rx="1.0" ry="1.0" fill="#e01818"/>
<ellipse cx="67" cy="70" rx="1.2" ry="1.2" fill="#e01818"/>
</g>
<g transform="translate(315.3,494.3) rotate(0)"><path d="M0,-16.4 L-2.7,-6.2 L0,0 Z" fill="#fff" stroke="#000" stroke-width="0.55" stroke-linejoin="miter"/><path d="M0,-16.4 L2.7,-6.2 L0,0 Z" fill="#000" stroke="#000" stroke-width="0.4"/></g>
<g transform="translate(315.3,494.3) rotate(90)"><path d="M0,-16.4 L-2.7,-6.2 L0,0 Z" fill="#fff" stroke="#000" stroke-width="0.55" stroke-linejoin="miter"/><path d="M0,-16.4 L2.7,-6.2 L0,0 Z" fill="#000" stroke="#000" stroke-width="0.4"/></g>
<g transform="translate(315.3,494.3) rotate(180)"><path d="M0,-16.4 L-2.7,-6.2 L0,0 Z" fill="#fff" stroke="#000" stroke-width="0.55" stroke-linejoin="miter"/><path d="M0,-16.4 L2.7,-6.2 L0,0 Z" fill="#000" stroke="#000" stroke-width="0.4"/></g>
<g transform="translate(315.3,494.3) rotate(270)"><path d="M0,-16.4 L-2.7,-6.2 L0,0 Z" fill="#fff" stroke="#000" stroke-width="0.55" stroke-linejoin="miter"/><path d="M0,-16.4 L2.7,-6.2 L0,0 Z" fill="#000" stroke="#000" stroke-width="0.4"/></g>
<circle cx="315.3" cy="494.3" r="6.7" fill="#fff" stroke="#000" stroke-width="1.1"/>
<path d="M315.3,494.3 L315.3,488.6 A5.7,5.7 0 0 1 321.0,494.3 Z" fill="#000"/>
<path d="M315.3,494.3 L315.3,500.0 A5.7,5.7 0 0 1 309.6,494.3 Z" fill="#000"/>
<circle cx="315.3" cy="494.3" r="5.8" fill="none" stroke="#fff" stroke-width="0.8"/>
<text x="315.3" y="475.7" font-size="8.2" font-weight="bold" text-anchor="middle" font-family="Liberation Serif" fill="#111">N</text>
<text x="315.3" y="519.1" font-size="7.8" text-anchor="middle" font-family="Liberation Serif" fill="#111">S</text>
<text x="294.3" y="497.0" font-size="7.8" text-anchor="middle" font-family="Liberation Serif" fill="#111">W</text>
<text x="335.8" y="497.0" font-size="7.8" text-anchor="middle" font-family="Liberation Serif" fill="#111">E</text>
<line x1="220.5" y1="517.5" x2="237.5" y2="523.2" stroke="#c8c8c8" stroke-width="0.8"/>
<line x1="237" y1="510" x2="237.8" y2="523.2" stroke="#c8c8c8" stroke-width="0.8"/>
<line x1="242" y1="523.5" x2="261.7" y2="516" stroke="#c8c8c8" stroke-width="0.8"/>
<line x1="251" y1="525.5" x2="269" y2="529" stroke="#c8c8c8" stroke-width="0.8"/>
<line x1="262" y1="589" x2="269" y2="592" stroke="#c8c8c8" stroke-width="0.8"/>
<line x1="199.3" y1="538" x2="209" y2="537.5" stroke="#c8c8c8" stroke-width="0.8"/>
<path d="M238.00,523.40 A36.4,36.4 0 0 1 238.01,523.40 L238.01,543.20 A16.6,16.6 0 0 0 238.00,543.20 Z" fill="#bfbfbf" stroke="#fff" stroke-width="0.0" stroke-linejoin="round"/>
<path d="M238.01,523.40 A36.4,36.4 0 0 1 243.41,523.80 L240.47,543.38 A16.6,16.6 0 0 0 238.01,543.20 Z" fill="#f80000" stroke="#fff" stroke-width="0.3" stroke-linejoin="round"/>
<path d="M243.41,523.80 A36.4,36.4 0 0 1 248.13,524.84 L242.62,543.86 A16.6,16.6 0 0 0 240.47,543.38 Z" fill="#0000f4" stroke="#fff" stroke-width="0.3" stroke-linejoin="round"/>
<path d="M248.13,524.84 A36.4,36.4 0 0 1 253.92,527.06 L245.26,544.87 A16.6,16.6 0 0 0 242.62,543.86 Z" fill="#00dc00" stroke="#fff" stroke-width="0.3" stroke-linejoin="round"/>
<path d="M253.92,527.06 A36.4,36.4 0 1 1 201.93,564.71 L221.55,562.04 A16.6,16.6 0 1 0 245.26,544.87 Z" fill="#007e00" stroke="#fff" stroke-width="0.5" stroke-linejoin="round"/>
<path d="M201.93,564.71 A36.4,36.4 0 0 1 238.00,523.40 L238.00,543.20 A16.6,16.6 0 0 0 221.55,562.04 Z" fill="#e3ae2e" stroke="#fff" stroke-width="0.5" stroke-linejoin="round"/>
<text x="190.0" y="521.8" font-size="11.8" font-family="Liberation Serif" fill="#1c1c1c">0.01%</text>
<text x="222.2" y="508.7" font-size="11.8" font-family="Liberation Serif" fill="#1c1c1c">2.37%</text>
<text x="261.2" y="515.8" font-size="11.8" font-family="Liberation Serif" fill="#1c1c1c">2.12%</text>
<text x="268.8" y="533.8" font-size="11.8" font-family="Liberation Serif" fill="#1c1c1c">2.71%</text>
<text x="268.8" y="597.3" font-size="11.8" font-family="Liberation Serif" fill="#1c1c1c">65.63%</text>
<text x="163.1" y="542.2" font-size="11.8" font-family="Liberation Serif" fill="#1c1c1c">27.16%</text>
<text x="207.1" y="622.0" font-size="10.9" text-anchor="end" font-family="Liberation Serif" fill="#1c1c1c">Unused Land</text>
<text x="214.8" y="621.9" font-size="11.1" font-family="Liberation Serif" fill="#1c1c1c">0.93</text>
<rect x="208.60" y="624.69" width="3.24" height="8.71" fill="#f80000"/>
<text x="207.1" y="633.1" font-size="10.9" text-anchor="end" font-family="Liberation Serif" fill="#1c1c1c">Construction Land</text>
<text x="213.7" y="633.0" font-size="11.1" font-family="Liberation Serif" fill="#1c1c1c">369.47</text>
<rect x="208.60" y="635.86" width="2.90" height="8.71" fill="#0000f4"/>
<text x="207.1" y="644.3" font-size="10.9" text-anchor="end" font-family="Liberation Serif" fill="#1c1c1c">Water</text>
<text x="213.4" y="644.2" font-size="11.1" font-family="Liberation Serif" fill="#1c1c1c">330.5</text>
<rect x="208.60" y="647.03" width="3.72" height="8.71" fill="#00dc00"/>
<text x="207.1" y="655.5" font-size="10.9" text-anchor="end" font-family="Liberation Serif" fill="#1c1c1c">Grassland</text>
<text x="214.2" y="655.4" font-size="11.1" font-family="Liberation Serif" fill="#1c1c1c">423.52</text>
<rect x="208.60" y="658.19" width="89.97" height="8.71" fill="#007e00"/>
<text x="207.1" y="666.6" font-size="10.9" text-anchor="end" font-family="Liberation Serif" fill="#1c1c1c">Woodland</text>
<text x="297.9" y="666.5" font-size="11.1" font-family="Liberation Serif" fill="#1c1c1c">10247.62</text>
<rect x="208.60" y="669.36" width="37.22" height="8.71" fill="#e3ae2e"/>
<text x="207.1" y="677.8" font-size="10.9" text-anchor="end" font-family="Liberation Serif" fill="#1c1c1c">Cultivated Land</text>
<text x="248.3" y="677.7" font-size="11.1" font-family="Liberation Serif" fill="#1c1c1c">4239.27</text>
<line x1="208.3" y1="612.3" x2="208.3" y2="679.3" stroke="#6e6e6e" stroke-width="1"/>
<line x1="208.3" y1="679.3" x2="306.5" y2="679.3" stroke="#555" stroke-width="1"/>
<text x="208.3" y="689.8" font-size="10.8" text-anchor="middle" font-family="Liberation Serif" fill="#1c1c1c">0</text>
<text x="252.2" y="689.8" font-size="10.8" text-anchor="middle" font-family="Liberation Serif" fill="#1c1c1c">5000</text>
<text x="296.1" y="689.8" font-size="10.8" text-anchor="middle" font-family="Liberation Serif" fill="#1c1c1c">10000</text>
<rect x="379.2" y="496.1" width="31.2" height="14.8" fill="#fdd28c" stroke="#7a7a7a" stroke-width="1.2"/>
<text x="422.0" y="509.1" font-size="16.6" font-family="Liberation Serif" fill="#111">Cultivated Land</text>
<rect x="379.2" y="523.1" width="31.2" height="14.8" fill="#2a6e12" stroke="#7a7a7a" stroke-width="1.2"/>
<text x="422.0" y="536.1" font-size="16.6" font-family="Liberation Serif" fill="#111">Woodland</text>
<rect x="379.2" y="548.6" width="31.2" height="14.8" fill="#a2e61c" stroke="#7a7a7a" stroke-width="1.2"/>
<text x="422.0" y="561.6" font-size="16.6" font-family="Liberation Serif" fill="#111">Grassland</text>
<rect x="379.2" y="574.3" width="31.2" height="14.8" fill="#1f5fe0" stroke="#7a7a7a" stroke-width="1.2"/>
<text x="422.0" y="587.3" font-size="16.6" font-family="Liberation Serif" fill="#111">Water</text>
<rect x="379.2" y="600.2" width="31.2" height="14.8" fill="#f21414" stroke="#7a7a7a" stroke-width="1.2"/>
<text x="422.0" y="613.2" font-size="16.6" font-family="Liberation Serif" fill="#111">Construction Land</text>
<rect x="379.2" y="625.9" width="31.2" height="14.8" fill="#c8c8c8" stroke="#7a7a7a" stroke-width="1.2"/>
<text x="422.0" y="638.9" font-size="16.6" font-family="Liberation Serif" fill="#111">Unused Land</text>
<rect x="381.6" y="672.3" width="24.8" height="4.9" fill="#000"/>
<rect x="406.4" y="672.3" width="22.2" height="4.9" fill="#fff" stroke="#000" stroke-width="1"/>
<rect x="428.6" y="672.3" width="47.4" height="4.9" fill="#000"/>
<text x="382.6" y="665.5" font-family="Liberation Serif" fill="#111" font-size="13.5" text-anchor="middle">0</text>
<text x="405.7" y="665.5" font-family="Liberation Serif" fill="#111" font-size="13.5" text-anchor="middle">25</text>
<text x="428.6" y="665.5" font-family="Liberation Serif" fill="#111" font-size="13.5" text-anchor="middle">50</text>
<text x="475.0" y="665.5" font-family="Liberation Serif" fill="#111" font-size="13.5" text-anchor="middle">100</text>
<text x="478.5" y="677.5" font-family="Liberation Serif" fill="#111" font-size="15.5">Km</text>
</svg>
</body></html>
